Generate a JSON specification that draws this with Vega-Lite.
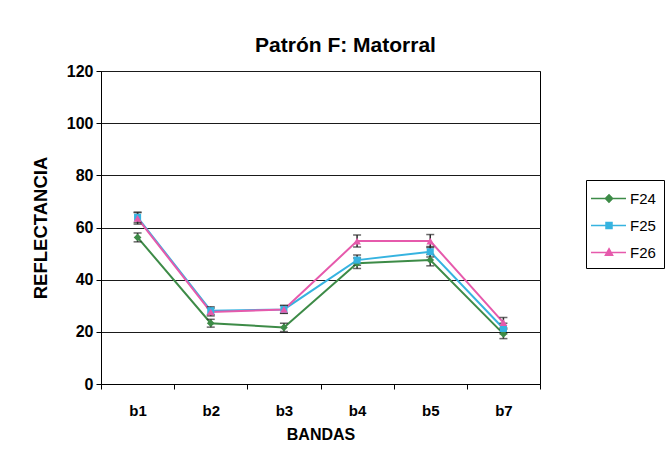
{
  "$schema": "https://vega.github.io/schema/vega-lite/v6.json",
  "width": 439,
  "height": 313,
  "autosize": {"type": "none"},
  "padding": {"left": 101, "top": 71, "right": 125, "bottom": 66},
  "background": "white",
  "title": {
    "text": "Patrón F: Matorral",
    "font": "Liberation Sans",
    "fontSize": 21,
    "fontWeight": "bold",
    "color": "black",
    "anchor": "middle",
    "baseline": "alphabetic",
    "dx": 25,
    "dy": 28,
    "offset": 18
  },
  "config": {
    "font": "Liberation Sans",
    "view": {"stroke": "black", "strokeWidth": 1},
    "axis": {
      "domainColor": "black",
      "tickColor": "black",
      "labelColor": "black",
      "titleColor": "black",
      "labelFont": "Liberation Sans",
      "titleFont": "Liberation Sans",
      "labelFontWeight": "bold",
      "titleFontWeight": "bold",
      "tickSize": 5
    }
  },
  "data": {
    "values": [
      {"serie": "F24", "banda": "b1", "valor": 56.2, "err": 1.7},
      {"serie": "F24", "banda": "b2", "valor": 23.3, "err": 1.5},
      {"serie": "F24", "banda": "b3", "valor": 21.7, "err": 1.6},
      {"serie": "F24", "banda": "b4", "valor": 46.3, "err": 2.0},
      {"serie": "F24", "banda": "b5", "valor": 47.5, "err": 2.2},
      {"serie": "F24", "banda": "b7", "valor": 19.2, "err": 1.8},
      {"serie": "F25", "banda": "b1", "valor": 63.9, "err": 2.0},
      {"serie": "F25", "banda": "b2", "valor": 28.1, "err": 1.5},
      {"serie": "F25", "banda": "b3", "valor": 28.6, "err": 1.5},
      {"serie": "F25", "banda": "b4", "valor": 47.5, "err": 2.0},
      {"serie": "F25", "banda": "b5", "valor": 50.7, "err": 2.0},
      {"serie": "F25", "banda": "b7", "valor": 21.3, "err": 2.0},
      {"serie": "F26", "banda": "b1", "valor": 63.5, "err": 2.2},
      {"serie": "F26", "banda": "b2", "valor": 27.6, "err": 1.5},
      {"serie": "F26", "banda": "b3", "valor": 28.6, "err": 1.5},
      {"serie": "F26", "banda": "b4", "valor": 54.8, "err": 2.3},
      {"serie": "F26", "banda": "b5", "valor": 54.8, "err": 2.5},
      {"serie": "F26", "banda": "b7", "valor": 23.5, "err": 2.0}
    ]
  },
  "encoding": {
    "x": {
      "field": "banda",
      "type": "nominal",
      "sort": ["b1", "b2", "b3", "b4", "b5", "b7"],
      "scale": {"type": "band", "paddingInner": 0, "paddingOuter": 0},
      "axis": {
        "title": "BANDAS",
        "titleFontSize": 16,
        "titlePadding": 8,
        "labelFontSize": 15,
        "labelPadding": 14,
        "labelAngle": 0,
        "tickBand": "extent",
        "grid": false
      }
    },
    "y": {
      "field": "valor",
      "type": "quantitative",
      "scale": {"domain": [0, 120], "nice": false},
      "axis": {
        "title": "REFLECTANCIA",
        "titleFontSize": 18.5,
        "titlePadding": 16,
        "labelFontSize": 16,
        "labelPadding": 3,
        "values": [0, 20, 40, 60, 80, 100, 120],
        "grid": true,
        "gridColor": "#1a1a1a",
        "gridWidth": 1
      }
    },
    "color": {
      "field": "serie",
      "type": "nominal",
      "scale": {"domain": ["F24", "F25", "F26"], "range": ["#3d8b47", "#36b3e0", "#e65aac"]},
      "legend": null
    }
  },
  "layer": [
    {
      "mark": {"type": "line", "strokeWidth": 2},
      "encoding": {
        "color": {
          "field": "serie",
          "type": "nominal",
          "legend": {
            "title": null,
            "orient": "none",
            "legendX": 485,
            "legendY": 109,
            "strokeColor": "black",
            "fillColor": "white",
            "padding": 7.5,
            "rowPadding": 8,
            "symbolSize": 400,
            "symbolStrokeWidth": 1.5,
            "labelFont": "Liberation Sans",
            "labelFontSize": 15,
            "labelColor": "black",
            "labelOffset": 14.5,
            "encode": {
              "symbols": {
                "update": {
                  "shape": {"signal": "datum.value === 'F24' ? 'M-1.35,0H2.15M0.45,-0.36L0.81,0L0.45,0.36L0.09,0Z' : datum.value === 'F25' ? 'M-1.35,0H2.15M0.15,-0.3H0.75V0.3H0.15Z' : 'M-1.35,0H2.15M0.45,-0.38L0.81,0.28H0.09Z'"},
                  "fill": {"signal": "scale('color', datum.value)"},
                  "stroke": {"signal": "scale('color', datum.value)"},
                  "strokeWidth": {"value": 1.5}
                }
              }
            }
          }
        }
      }
    },
    {
      "mark": {"type": "errorbar", "ticks": {"size": 8}, "color": "#2a2a2a", "thickness": 1.5},
      "encoding": {
        "color": {"value": "#2a2a2a"},
        "yError": {"field": "err"},
        "detail": {"field": "serie", "type": "nominal"}
      }
    },
    {
      "transform": [{"filter": {"field": "serie", "equal": "F24"}}],
      "mark": {"type": "point", "shape": "diamond", "filled": true, "opacity": 1, "size": 60}
    },
    {
      "transform": [{"filter": {"field": "serie", "equal": "F25"}}],
      "mark": {"type": "point", "shape": "square", "filled": true, "opacity": 1, "size": 50}
    },
    {
      "transform": [{"filter": {"field": "serie", "equal": "F26"}}],
      "mark": {"type": "point", "shape": "triangle-up", "filled": true, "opacity": 1, "size": 60}
    }
  ]
}
